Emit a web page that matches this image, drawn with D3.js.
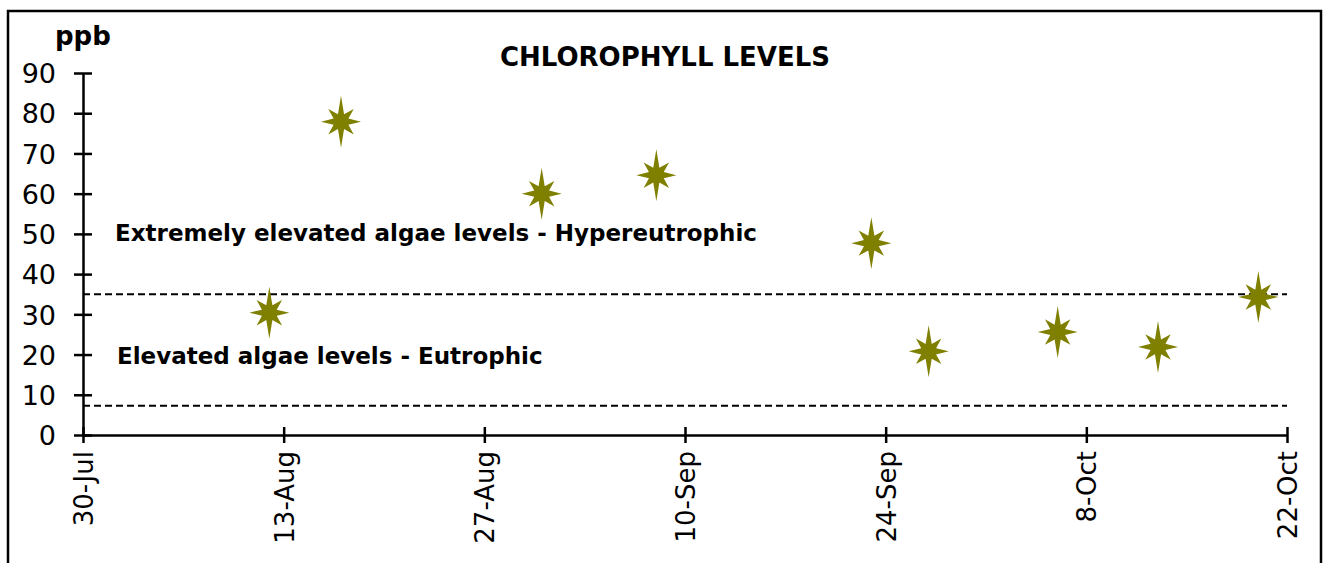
<!DOCTYPE html>
<html>
<head>
<meta charset="utf-8">
<script src="https://cdn.jsdelivr.net/npm/d3@7"></script>
<style>
  body { margin: 0; background: #fff; }
  text { font-family: "DejaVu Sans", sans-serif; fill: #000; }
</style>
</head>
<body>
<div id="vis"></div>
<script>
const FRAME_WIDTH = 1326;
const FRAME_HEIGHT = 563;
const MARGINS = {left: 83, right: 39, top: 73, bottom: 128};

// data
const dates = ["2021-08-12", "2021-08-17", "2021-08-31", "2021-09-08", "2021-09-23",
               "2021-09-27", "2021-10-06", "2021-10-13", "2021-10-20"];
const chlorophyll = [30.4, 77.9, 60.0, 64.6, 47.7, 20.8, 25.6, 21.9, 34.3];
const thresholds = [35, 7.3];
const yTicks = [0, 10, 20, 30, 40, 50, 60, 70, 80, 90];
const xTickLabels = ["30-Jul", "13-Aug", "27-Aug", "10-Sep", "24-Sep", "8-Oct", "22-Oct"];
const zoneLabels = ["Extremely elevated algae levels - Hypereutrophic", "Elevated algae levels - Eutrophic"];

const parse = d3.timeParse("%Y-%m-%d");
const points = dates.map((d, i) => ({date: parse(d), value: chlorophyll[i]}));

const VIS_WIDTH = FRAME_WIDTH - MARGINS.left - MARGINS.right;
const VIS_HEIGHT = FRAME_HEIGHT - MARGINS.top - MARGINS.bottom;

const START = parse("2021-07-30");
const END = parse("2021-10-22");
const xTicks = d3.range(7).map(i => d3.timeDay.offset(START, i * 14));

const X_SCALE = d3.scaleTime().domain([START, END]).range([0, VIS_WIDTH]);
const Y_SCALE = d3.scaleLinear().domain([0, 90]).range([VIS_HEIGHT, 0]);

const FRAME1 = d3.select("#vis")
  .append("svg")
    .attr("width", FRAME_WIDTH)
    .attr("height", FRAME_HEIGHT);

// outer border
FRAME1.append("rect")
  .attr("x", 8).attr("y", 11)
  .attr("width", 1313).attr("height", 560)
  .attr("fill", "none")
  .attr("stroke", "#000")
  .attr("stroke-width", 2.5);

FRAME1.append("text")
  .attr("x", 665).attr("y", 66)
  .attr("text-anchor", "middle")
  .attr("font-size", 26).attr("font-weight", "bold")
  .text("CHLOROPHYLL LEVELS");

FRAME1.append("text")
  .attr("x", 55).attr("y", 45)
  .attr("font-size", 26).attr("font-weight", "bold")
  .text("ppb");

const g = FRAME1.append("g")
  .attr("transform", "translate(" + MARGINS.left + "," + MARGINS.top + ")");

// threshold lines
g.selectAll(".thr")
  .data(thresholds)
  .enter()
  .append("line")
    .attr("x1", 0).attr("x2", VIS_WIDTH)
    .attr("y1", d => Y_SCALE(d)).attr("y2", d => Y_SCALE(d))
    .attr("stroke", "#000")
    .attr("stroke-width", 2)
    .attr("stroke-dasharray", "7,4");

// y axis
const yAxis = g.append("g")
  .call(d3.axisLeft(Y_SCALE).tickValues(yTicks).tickSize(0).tickPadding(0));
yAxis.select(".domain").attr("stroke-width", 2.5);
yAxis.selectAll(".tick line").attr("x1", -9).attr("x2", 9).attr("stroke-width", 2.5);
yAxis.selectAll(".tick text")
  .attr("x", -27).attr("dy", "0.36em")
  .style("font-family", "'DejaVu Sans', sans-serif")
  .style("font-size", "27px");

// x axis
const xAxis = g.append("g")
  .attr("transform", "translate(0," + VIS_HEIGHT + ")")
  .call(d3.axisBottom(X_SCALE).tickValues(xTicks).tickFormat((d, i) => xTickLabels[i]).tickSize(0).tickPadding(0));
xAxis.select(".domain").attr("stroke-width", 2.5);
xAxis.selectAll(".tick line").attr("y1", -8).attr("y2", 8).attr("stroke-width", 2.5);
xAxis.selectAll(".tick text")
  .attr("transform", "rotate(-90)")
  .attr("x", -16).attr("y", 0).attr("dy", "0.36em")
  .attr("text-anchor", "end")
  .style("font-family", "'DejaVu Sans', sans-serif")
  .style("font-size", "26px");

// zone labels
g.selectAll(".zone")
  .data(zoneLabels)
  .enter()
  .append("text")
    .attr("x", (d, i) => [32, 34][i])
    .attr("y", (d, i) => Y_SCALE([48.3, 17.6][i]))
    .attr("font-size", 23).attr("font-weight", "bold")
    .text(d => d);

// 8-point star marker
const star = {
  draw(context) {
    const outer = [26, 18, 20, 18, 26, 18, 20, 18];
    const inner = 8;
    for (let k = 0; k < 16; k++) {
      const a = k * Math.PI / 8 - Math.PI / 2;
      const r = k % 2 === 0 ? outer[k / 2] : inner;
      const px = r * Math.cos(a), py = r * Math.sin(a);
      if (k === 0) context.moveTo(px, py); else context.lineTo(px, py);
    }
    context.closePath();
  }
};

g.selectAll(".pt")
  .data(points)
  .enter()
  .append("path")
    .attr("d", d3.symbol(star))
    .attr("transform", d => "translate(" + X_SCALE(d.date) + "," + Y_SCALE(d.value) + ")")
    .attr("fill", "#7f7f00");
</script>
</body>
</html>
